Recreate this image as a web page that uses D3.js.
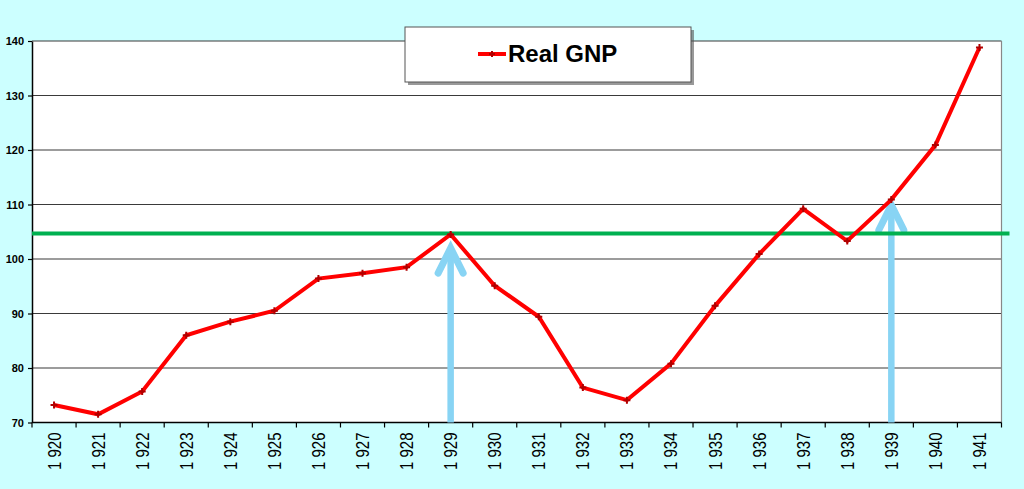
<!DOCTYPE html>
<html>
<head>
<meta charset="utf-8">
<script src="https://cdn.jsdelivr.net/npm/d3@7"></script>
<style>
  body { margin: 0; background: #ccffff; }
  svg { display: block; }
</style>
</head>
<body>
<svg id="chart" width="1024" height="489"></svg>
<script>
var years = [1920, 1921, 1922, 1923, 1924, 1925, 1926, 1927, 1928, 1929, 1930,
             1931, 1932, 1933, 1934, 1935, 1936, 1937, 1938, 1939, 1940, 1941];
var gnp = [73.2, 71.5, 75.7, 86.0, 88.5, 90.5, 96.4, 97.4, 98.5, 104.5, 95.1,
           89.4, 76.4, 74.1, 80.8, 91.4, 100.9, 109.2, 103.3, 110.9, 120.9, 138.8];
var yTicks = [70, 80, 90, 100, 110, 120, 130, 140];
var refLevel = 104.7;
var arrows = [{ year: 1929, tip: 102.0 }, { year: 1939, tip: 109.9 }];
var seriesName = "Real GNP";

var svg = d3.select("#chart"),
    margin = { top: 41, right: 22.5, bottom: 66.5, left: 32 },
    width = +svg.attr("width") - margin.left - margin.right,
    height = +svg.attr("height") - margin.top - margin.bottom;

var x = d3.scaleBand().domain(years).range([0, width]);
var y = d3.scaleLinear().domain([70, 140]).range([height, 0]);

var g = svg.append("g")
    .attr("transform", "translate(" + margin.left + "," + margin.top + ")");

// plot area
g.append("rect")
    .attr("width", width)
    .attr("height", height)
    .attr("fill", "#fff");

// gridlines
g.selectAll(".grid")
  .data(yTicks.slice(1))
  .enter().append("line")
    .attr("x1", 0).attr("x2", width)
    .attr("y1", function(d) { return y(d); })
    .attr("y2", function(d) { return y(d); })
    .attr("stroke", "#3a3a3a")
    .attr("stroke-width", 1.2);

g.append("line")
    .attr("x1", width).attr("x2", width)
    .attr("y1", 0).attr("y2", height)
    .attr("stroke", "#888")
    .attr("stroke-width", 1.2);

// y axis
var yAxis = g.append("g")
    .call(d3.axisLeft(y).tickValues(yTicks).tickSize(4).tickSizeOuter(0));
yAxis.select(".domain").attr("stroke", "#000").attr("stroke-width", 1.5);
yAxis.selectAll(".tick line").attr("stroke", "#000").attr("stroke-width", 1.2);
yAxis.selectAll("text")
    .attr("x", -8)
    .attr("font-family", "Liberation Sans, Arial, sans-serif")
    .attr("font-weight", "bold")
    .attr("font-size", "11px")
    .attr("fill", "#000");

// x axis, ticks between categories
var xg = g.append("g").attr("transform", "translate(0," + height + ")");
xg.append("line")
    .attr("x1", 0).attr("x2", width)
    .attr("stroke", "#000").attr("stroke-width", 1.5);
xg.selectAll(".xtick")
  .data(years.concat([null]))
  .enter().append("line")
    .attr("x1", function(d, i) { return i * x.bandwidth(); })
    .attr("x2", function(d, i) { return i * x.bandwidth(); })
    .attr("y1", 0).attr("y2", 5)
    .attr("stroke", "#000").attr("stroke-width", 1.2);
xg.selectAll(".xlabel")
  .data(years)
  .enter().append("text")
    .attr("transform", function(d) {
      return "translate(" + (x(d) + x.bandwidth() / 2) + ",10) rotate(-90) scale(1,1.2)";
    })
    .attr("text-anchor", "end")
    .attr("dy", "0.36em")
    .attr("font-family", "Liberation Sans, Arial, sans-serif")
    .attr("font-size", "15px")
    .attr("fill", "#000")
    .text(function(d) { return String(d).charAt(0) + " " + String(d).slice(1); });

// arrows
var arrowColor = "#88d4f4";
arrows.forEach(function(a) {
  var cx = x(a.year) + x.bandwidth() / 2, ty = y(a.tip);
  g.append("line")
      .attr("x1", cx).attr("x2", cx)
      .attr("y1", height).attr("y2", ty + 2)
      .attr("stroke", arrowColor).attr("stroke-width", 6.5);
  g.append("path")
      .attr("d", "M" + (cx - 12.5) + "," + (ty + 25) + "L" + cx + "," + ty + "L" + (cx + 12.5) + "," + (ty + 25))
      .attr("fill", "none")
      .attr("stroke", arrowColor).attr("stroke-width", 7)
      .attr("stroke-linecap", "round")
      .attr("stroke-linejoin", "miter");
});

// reference level
g.append("line")
    .attr("x1", 0).attr("x2", width + 8)
    .attr("y1", y(refLevel)).attr("y2", y(refLevel))
    .attr("stroke", "#00b050")
    .attr("stroke-width", 4);

// series
var line = d3.line()
    .x(function(d, i) { return x(years[i]) + x.bandwidth() / 2; })
    .y(function(d) { return y(d); });

g.append("path")
    .datum(gnp)
    .attr("d", line)
    .attr("fill", "none")
    .attr("stroke", "#ff0000")
    .attr("stroke-width", 4)
    .attr("stroke-linejoin", "miter");

g.selectAll(".marker")
  .data(gnp)
  .enter().append("path")
    .attr("transform", function(d, i) {
      return "translate(" + (x(years[i]) + x.bandwidth() / 2) + "," + y(d) + ")";
    })
    .attr("d", "M-3.5,0L3.5,0M0,-3.5L0,3.5")
    .attr("stroke", "#b00000")
    .attr("stroke-width", 2);

// legend
var lg = svg.append("g").attr("transform", "translate(405,27)");
lg.append("rect")
    .attr("x", 3).attr("y", 3)
    .attr("width", 286).attr("height", 55)
    .attr("fill", "#555")
    .attr("opacity", 0.6);
lg.append("rect")
    .attr("width", 286).attr("height", 55)
    .attr("fill", "#fff")
    .attr("stroke", "#555")
    .attr("stroke-width", 1);
lg.append("line")
    .attr("x1", 73).attr("x2", 101)
    .attr("y1", 27).attr("y2", 27)
    .attr("stroke", "#ff0000").attr("stroke-width", 4);
lg.append("path")
    .attr("transform", "translate(87,27)")
    .attr("d", "M-3,0L3,0M0,-3L0,3")
    .attr("stroke", "#b00000").attr("stroke-width", 2);
lg.append("text")
    .attr("x", 103).attr("y", 35)
    .attr("font-family", "Liberation Sans, Arial, sans-serif")
    .attr("font-weight", "bold")
    .attr("font-size", "24px")
    .attr("fill", "#000")
    .text(seriesName);
</script>
</body>
</html>
